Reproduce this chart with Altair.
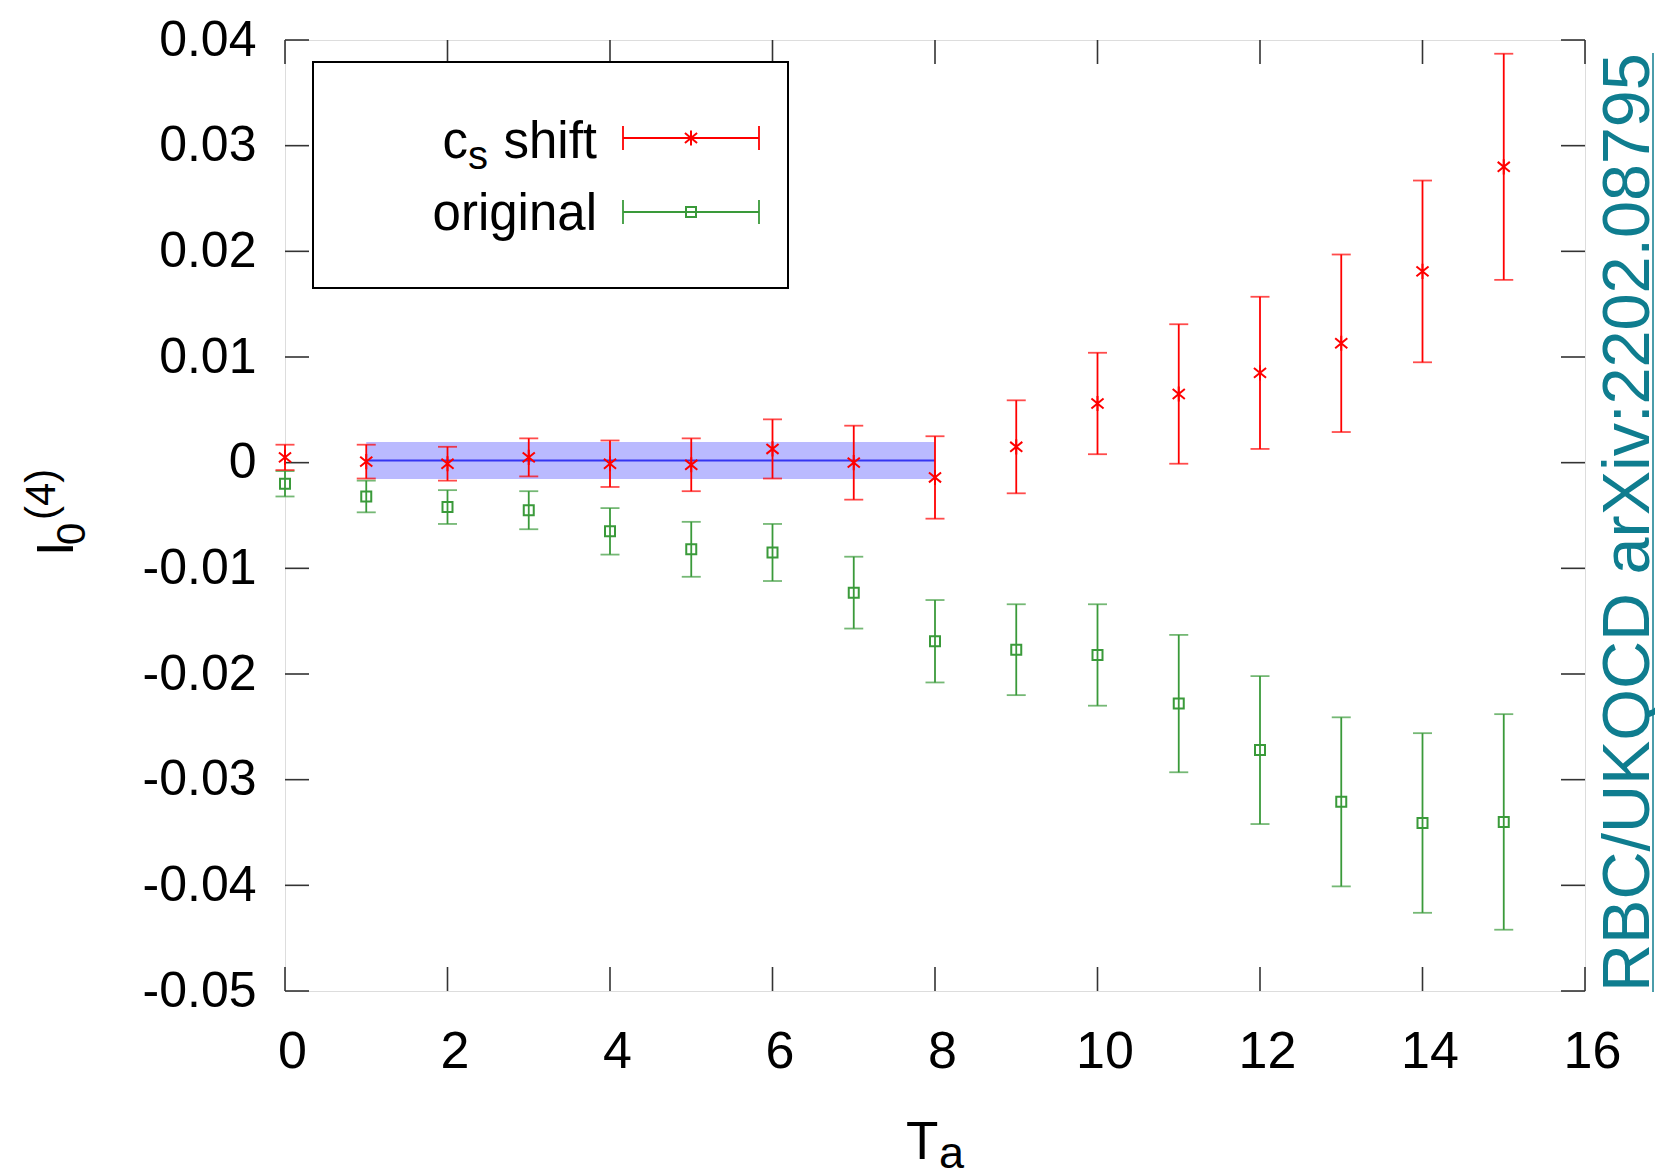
import altair as alt
import pandas as pd

# ---------------- data ----------------
ta = list(range(16))
cs_val = [0.0005, 0.0001, -0.0001, 0.0005, -0.0001, -0.0002, 0.0013, 0.0000,
          -0.0014, 0.0015, 0.0056, 0.0065, 0.0085, 0.0113, 0.0181, 0.0280]
cs_err = [0.0012, 0.0016, 0.0016, 0.0018, 0.0022, 0.0025, 0.0028, 0.0035,
          0.0039, 0.0044, 0.0048, 0.0066, 0.0072, 0.0084, 0.0086, 0.0107]
orig_val = [-0.0020, -0.0032, -0.0042, -0.0045, -0.0065, -0.0082, -0.0085, -0.0123,
            -0.0169, -0.0177, -0.0182, -0.0228, -0.0272, -0.0321, -0.0341, -0.0340]
orig_err = [0.0012, 0.0015, 0.0016, 0.0018, 0.0022, 0.0026, 0.0027, 0.0034,
            0.0039, 0.0043, 0.0048, 0.0065, 0.0070, 0.0080, 0.0085, 0.0102]
fit_range = [1, 8]
fit_val = 0.0002
fit_err = 0.00175

x_tick_values = [0, 2, 4, 6, 8, 10, 12, 14, 16]
y_tick_values = [-0.05, -0.04, -0.03, -0.02, -0.01, 0.0, 0.01, 0.02, 0.03, 0.04]

# ---------------- styling ----------------
W, H = 1300, 951
FONT = "Liberation Sans"
RED = "#ff0000"
GREEN = "#3a9a3a"
BLUE = "#3535f2"
TEAL = "#0f7d8f"
STAR = "M0,-1L0,1M-0.8,-0.65L0.8,0.65M-0.8,0.65L0.8,-0.65"

xs = alt.Scale(domain=[0, 16], nice=False, zero=False)
ys = alt.Scale(domain=[-0.05, 0.04], nice=False, zero=False)
X_AX = alt.Axis(values=x_tick_values, labelFontSize=52, labelFont=FONT, labelColor="black",
                domain=False, ticks=False, tickSize=0, grid=False, labelPadding=60,
                labelBaseline="middle", labelOffset=7, labelFlush=False)
Y_AX = alt.Axis(values=y_tick_values, labelFontSize=50, labelFont=FONT, labelColor="black",
                domain=False, ticks=False, tickSize=0, grid=False, labelPadding=29,
                labelFlush=False,
                labelExpr="replace(format(datum.value, '.2~f'), '\u2212', '-')")


def X(field):
    return alt.X(field, type="quantitative", scale=xs, axis=X_AX, title=None)


def Y(field):
    return alt.Y(field, type="quantitative", scale=ys, axis=Y_AX, title=None)


df_cs = pd.DataFrame({"ta": ta, "v": cs_val,
                      "lo": [v - e for v, e in zip(cs_val, cs_err)],
                      "hi": [v + e for v, e in zip(cs_val, cs_err)]})
df_or = pd.DataFrame({"ta": ta, "v": orig_val,
                      "lo": [v - e for v, e in zip(orig_val, orig_err)],
                      "hi": [v + e for v, e in zip(orig_val, orig_err)]})
df_fit = pd.DataFrame({"x0": [fit_range[0]], "x1": [fit_range[1]], "v": [fit_val],
                       "lo": [fit_val - fit_err], "hi": [fit_val + fit_err]})
df_yt = pd.DataFrame({"v": y_tick_values})
df_xt = pd.DataFrame({"v": x_tick_values})
one = pd.DataFrame({"k": [0]})

layers = []

# fit band + line
layers.append(alt.Chart(df_fit).mark_rect(color="#0000ff", opacity=0.27).encode(
    x=X("x0"), x2="x1", y=Y("lo"), y2="hi"))
layers.append(alt.Chart(df_fit).mark_rule(color=BLUE, strokeWidth=2).encode(
    x=X("x0"), x2="x1", y=Y("v")))

# inward ticks on all four sides
TICKC = "#333333"
layers.append(alt.Chart(df_yt).mark_rule(color=TICKC, strokeWidth=1.6).encode(
    y=Y("v"), x=alt.value(0), x2=alt.value(24)))
layers.append(alt.Chart(df_yt).mark_rule(color=TICKC, strokeWidth=1.6).encode(
    y=Y("v"), x=alt.value(W - 24), x2=alt.value(W)))
layers.append(alt.Chart(df_xt).mark_rule(color=TICKC, strokeWidth=1.6).encode(
    x=X("v"), y=alt.value(H - 24), y2=alt.value(H)))
layers.append(alt.Chart(df_xt).mark_rule(color=TICKC, strokeWidth=1.6).encode(
    x=X("v"), y=alt.value(0), y2=alt.value(24)))

# error bars
for df, col in ((df_or, GREEN), (df_cs, RED)):
    layers.append(alt.Chart(df).mark_rule(color=col, strokeWidth=1.8).encode(
        x=X("ta"), y=Y("lo"), y2="hi"))
    for f in ("lo", "hi"):
        layers.append(alt.Chart(df).mark_tick(color=col, orient="horizontal", size=19,
                                              thickness=1.8).encode(x=X("ta"), y=Y(f)))

layers.append(alt.Chart(df_or).mark_point(shape="square", size=100, filled=False,
                                          color=GREEN, strokeWidth=2, opacity=1).encode(
    x=X("ta"), y=Y("v")))
layers.append(alt.Chart(df_cs).mark_point(shape=STAR, size=230, filled=False,
                                          color=RED, strokeWidth=2, opacity=1).encode(
    x=X("ta"), y=Y("v")))

# ---------------- legend box ----------------
layers.append(alt.Chart(one).mark_rect(fill="white", stroke="black", strokeWidth=2).encode(
    x=alt.value(28), x2=alt.value(503), y=alt.value(22), y2=alt.value(248)))


def txt(text, x, y, size, align="left", baseline="alphabetic", color="black", angle=0):
    kw = dict(text=text, font=FONT, fontSize=size, align=align, baseline=baseline, color=color)
    if angle:
        kw["angle"] = angle
    return alt.Chart(one).mark_text(**kw).encode(x=alt.value(x), y=alt.value(y))


layers.append(txt("shift", 312, 118, 51, align="right"))
layers.append(txt("s", 183, 129, 40, align="left"))
layers.append(txt("c", 183, 118, 51, align="right"))
layers.append(txt("original", 312, 190, 51, align="right"))

for ly, col in ((98, RED), (172, GREEN)):
    layers.append(alt.Chart(one).mark_rule(color=col, strokeWidth=1.8).encode(
        x=alt.value(338), x2=alt.value(474), y=alt.value(ly)))
    for lx in (338, 474):
        layers.append(alt.Chart(one).mark_rule(color=col, strokeWidth=1.8).encode(
            x=alt.value(lx), y=alt.value(ly - 12), y2=alt.value(ly + 12)))
layers.append(alt.Chart(one).mark_point(shape=STAR, size=230, filled=False, color=RED,
                                        strokeWidth=2, opacity=1).encode(
    x=alt.value(406), y=alt.value(98)))
layers.append(alt.Chart(one).mark_point(shape="square", size=100, filled=False, color=GREEN,
                                        strokeWidth=2, opacity=1).encode(
    x=alt.value(406), y=alt.value(172)))

# ---------------- axis titles ----------------
layers.append(txt("I", -212, 516, 52, angle=270))
layers.append(txt("0", -200, 505, 40, angle=270))
layers.append(txt("(4)", -230, 480, 42, angle=270))

layers.append(txt("T", 621, 1119, 53))
layers.append(txt("a", 654, 1128, 45))

# ---------------- watermark ----------------
layers.append(txt("RBC/UKQCD arXiv:2202.08795", 1364, 952, 66.5, angle=270, color=TEAL))
layers.append(alt.Chart(one).mark_rule(color=TEAL, strokeWidth=1.5).encode(
    x=alt.value(1368), y=alt.value(13), y2=alt.value(952)))

chart = alt.layer(*layers).properties(
    width=W, height=H,
    autosize=alt.AutoSizeParams(type="none"),
    padding={"left": 285, "top": 40, "right": 70, "bottom": 183},
).configure_view(stroke="black", strokeWidth=2).configure(background="white")

chart.save("out.html", embed_options={"renderer": "svg", "actions": False})
